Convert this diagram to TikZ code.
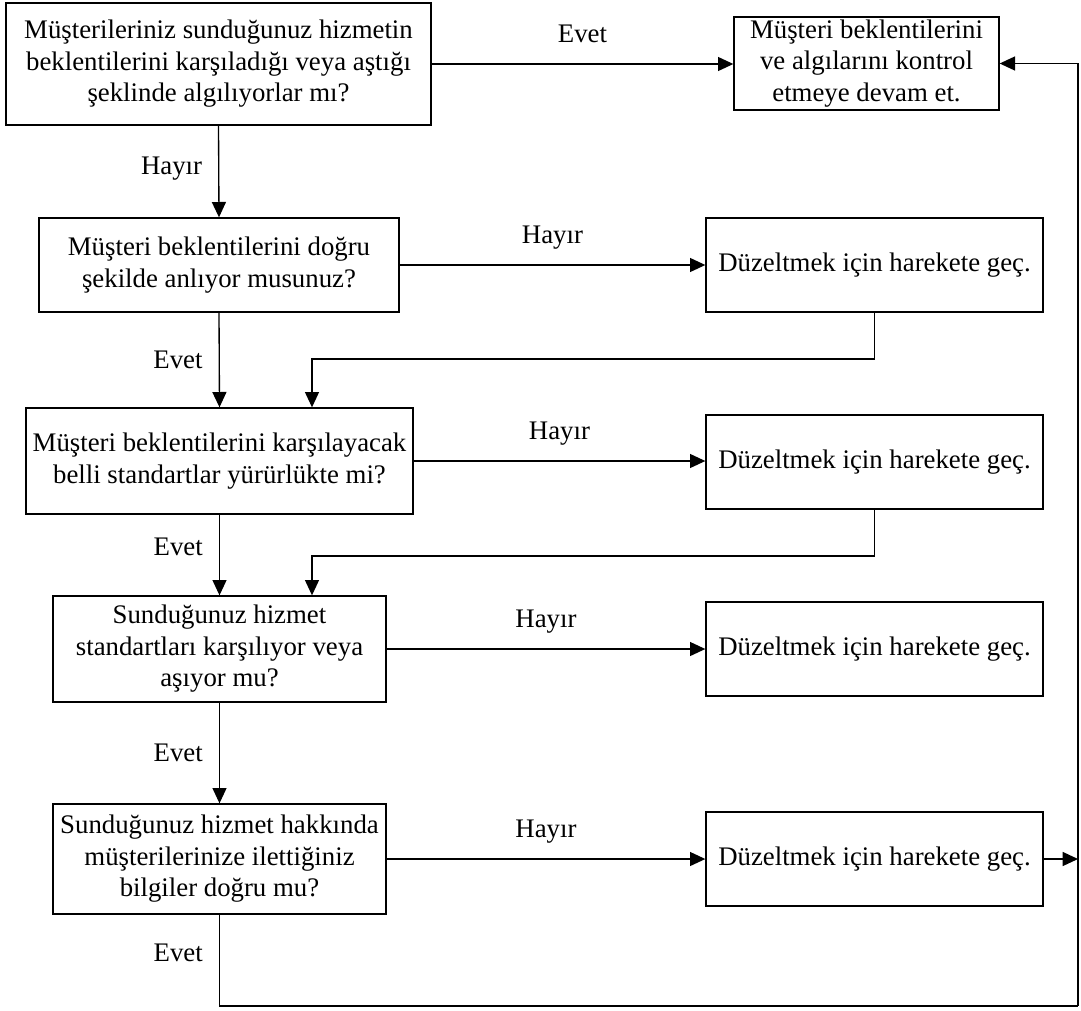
\documentclass[tikz,border=0pt]{standalone}
\usepackage{fontspec}
\setmainfont{Liberation Serif}
\usepackage{tikz}
\usetikzlibrary{positioning,arrows.meta}
\tikzset{
  askbox/.style={draw, line width=1pt, align=center, inner sep=0pt},
  flowline/.style={line width=1pt, -{Triangle[length=11.5pt,width=10.5pt]}},
  plainline/.style={line width=1pt},
  branchlbl/.style={inner sep=0pt, text depth=0pt}
}
\newcommand{\fixnode}[2]{%
  \node[askbox, minimum width=252.75pt, minimum height=70.5pt] (#1) at (874.5,#2) {Düzeltmek için harekete geç.};}

\begin{document}
\begin{tikzpicture}[x=0.75pt, y=-0.75pt, font=\fontsize{20.1}{23.6}\selectfont]
  \useasboundingbox (0,0) rectangle (1081,1010);
  \node[askbox, minimum width=318.75pt, minimum height=91.5pt] (q1) at (218.5,64)
    {Müşterileriniz sunduğunuz hizmetin\\beklentilerini karşıladığı veya aştığı\\şeklinde algılıyorlar mı?};
  \node[askbox, minimum width=198.75pt, minimum height=69.75pt] (done) at (866.5,63.5)
    {Müşteri beklentilerini\\ve algılarını kontrol\\etmeye devam et.};
  \node[askbox, minimum width=270pt, minimum height=70.5pt] (q2) at (219,265)
    {Müşteri beklentilerini doğru\\şekilde anlıyor musunuz?};
  \node[askbox, minimum width=290.25pt, minimum height=79.5pt] (q3) at (219.5,461)
    {Müşteri beklentilerini karşılayacak\\belli standartlar yürürlükte mi?};
  \node[askbox, minimum width=249.75pt, minimum height=79.5pt] (q4) at (219.5,649)
    {Sunduğunuz hizmet\\standartları karşılıyor veya\\aşıyor mu?};
  \node[askbox, minimum width=249.75pt, minimum height=82.5pt] (q5) at (219.5,859)
    {Sunduğunuz hizmet hakkında\\müşterilerinize ilettiğiniz\\bilgiler doğru mu?};
  \fixnode{fix2}{265}
  \fixnode{fix3}{462}
  \fixnode{fix4}{649}
  \fixnode{fix5}{859}
  \coordinate (back2) at (312,359);
  \coordinate (back3) at (312,556);
  \coordinate (rail) at (1078,1006);

  \draw[flowline] (q1.east) -- node[branchlbl, above=16pt] {Evet} (q1.east -| done.west);
  \draw[flowline] (q2.east) -- node[branchlbl, above=16pt] {Hayır} (fix2.west);
  \draw[flowline] (q3.east) -- node[branchlbl, above=16pt] {Hayır} (q3.east -| fix3.west);
  \draw[flowline] (q4.east) -- node[branchlbl, above=16pt] {Hayır} (fix4.west);
  \draw[flowline] (q5.east) -- node[branchlbl, above=16pt] {Hayır} (fix5.west);

  \draw[flowline] (q1.south) -- node[branchlbl, left=12pt, yshift=4pt] {Hayır} (q2.north);
  \draw[flowline] (q2.south) -- node[branchlbl, left=12pt] {Evet} (q3.north);
  \draw[flowline] (q3.south) -- node[branchlbl, left=12pt, yshift=6pt] {Evet} (q4.north);
  \draw[flowline] (q4.south) -- node[branchlbl, left=12pt] {Evet} (q5.north);

  \draw[flowline] (fix2.south) |- (back2) -- (back2 |- q3.north);
  \draw[flowline] (fix3.south) |- (back3) -- (back3 |- q4.north);
  \draw[flowline] (fix5.east) -- (fix5.east -| rail);
  \draw[plainline] (q5.south) -- node[branchlbl, left=12pt, yshift=6pt] {Evet} (q5.south |- rail) -- (rail);
  \draw[flowline] (rail) |- (done.east);
\end{tikzpicture}
\end{document}
